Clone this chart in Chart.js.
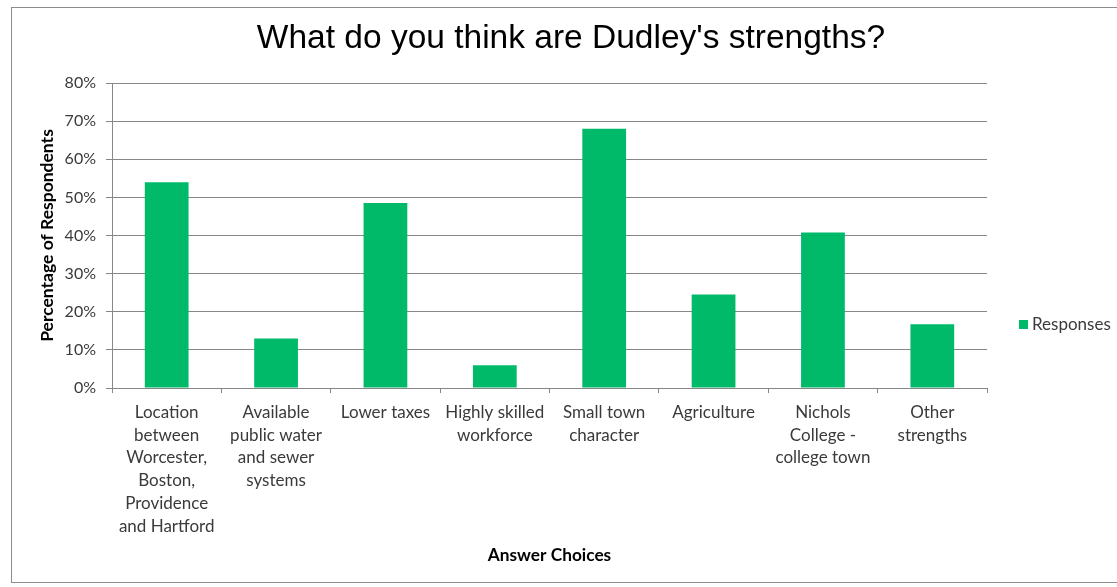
<!DOCTYPE html>
<html><head><meta charset="utf-8">
<style>html,body{margin:0;padding:0;background:#fff;overflow:hidden;} #wrap{width:1117px;height:587px;position:relative;}</style>
<script src="https://cdn.jsdelivr.net/npm/chart.js@4.4.0/dist/chart.umd.min.js"></script>
</head><body><div id="wrap"><canvas id="c" width="1117" height="587"></canvas></div>
<script>
const chartTitle = "What do you think are Dudley's strengths?";
const categories = [
  ["Location", "between", "Worcester,", "Boston,", "Providence", "and Hartford"],
  ["Available", "public water", "and sewer", "systems"],
  ["Lower taxes"],
  ["Highly skilled", "workforce"],
  ["Small town", "character"],
  ["Agriculture"],
  ["Nichols", "College -", "college town"],
  ["Other", "strengths"]
];
const seriesName = "Responses";
const responses = [0.54, 0.13, 0.485, 0.06, 0.68, 0.245, 0.408, 0.167];
const yTickValues = [0, 0.1, 0.2, 0.3, 0.4, 0.5, 0.6, 0.7, 0.8];
const yTitle = "Percentage of Respondents";
const xTitle = "Answer Choices";

const GREEN = '#00BA6A';
const GRID = '#878787';
const TXT = '#3a3a3a';
const FONT = 'Lato, "Open Sans", sans-serif';

const frame = {
  id: 'frame',
  beforeDraw(chart) {
    const ctx = chart.ctx;
    ctx.save();
    ctx.fillStyle = '#fff';
    ctx.fillRect(0, 0, chart.width, chart.height);
    ctx.strokeStyle = '#8c8c8c';
    ctx.lineWidth = 1;
    ctx.strokeRect(11.5, 7.5, 1200, 575);
    ctx.restore();
  }
};

const sideLegend = {
  id: 'sideLegend',
  afterDraw(chart) {
    const ctx = chart.ctx;
    const ds = chart.data.datasets[0];
    ctx.save();
    ctx.fillStyle = ds.backgroundColor;
    ctx.fillRect(1019, 320, 9, 9);
    ctx.fillStyle = TXT;
    ctx.font = '17px ' + FONT;
    ctx.textBaseline = 'middle';
    ctx.textAlign = 'left';
    ctx.fillText(ds.label, 1032, 325);
    ctx.restore();
  }
};

new Chart(document.getElementById('c'), {
  type: 'bar',
  data: {
    labels: categories,
    datasets: [{
      label: seriesName,
      data: responses,
      backgroundColor: GREEN,
      borderWidth: 0,
      barPercentage: 0.4,
      categoryPercentage: 1.0
    }]
  },
  options: {
    responsive: false,
    devicePixelRatio: 1,
    animation: false,
    layout: { padding: { left: 25, right: 0, top: 0, bottom: 0 } },
    plugins: {
      legend: { display: false },
      tooltip: { enabled: false },
      title: {
        display: true,
        text: chartTitle,
        color: '#000',
        font: { family: '"Liberation Sans", Arial, sans-serif', size: 33.5, weight: 'normal', lineHeight: 1.2 },
        padding: { top: 19, bottom: 23.8 }
      }
    },
    scales: {
      x: {
        afterFit(scale) { scale.height = 199; },
        grid: { display: true, drawOnChartArea: false, drawTicks: true, tickLength: 5, color: GRID, offset: true },
        border: { display: true, color: GRID, width: 1 },
        ticks: {
          autoSkip: false, maxRotation: 0, minRotation: 0, padding: 8,
          color: TXT,
          font: { family: FONT, size: 17, lineHeight: 1.34 }
        },
        title: {
          display: true, text: xTitle, color: '#000',
          font: { family: FONT, size: 17.3, weight: 'bold', lineHeight: 1.2 },
          padding: { top: 0, bottom: 21.6 }
        }
      },
      y: {
        min: 0, max: 0.8,
        afterFit(scale) { scale.width = 87; },
        afterBuildTicks(scale) { scale.ticks = yTickValues.map(v => ({ value: v })); },
        grid: { color: GRID, tickLength: 6, drawTicks: true },
        border: { display: true, color: GRID, width: 1 },
        ticks: {
          padding: 10, color: TXT,
          font: { family: FONT, size: 16 },
          callback: v => Math.round(v * 100) + '%'
        },
        title: {
          display: true, text: yTitle, color: '#000',
          font: { family: FONT, size: 17.5, weight: 'bold', lineHeight: 1.2 },
          padding: { top: 11.5, bottom: 0 }
        }
      },
      legendSpace: {
        type: 'linear',
        position: 'right',
        display: true,
        afterFit(scale) { scale.width = 130; },
        grid: { display: false, drawTicks: false },
        border: { display: false },
        ticks: { display: false }
      }
    }
  },
  plugins: [frame, sideLegend]
});
</script>
</body></html>
